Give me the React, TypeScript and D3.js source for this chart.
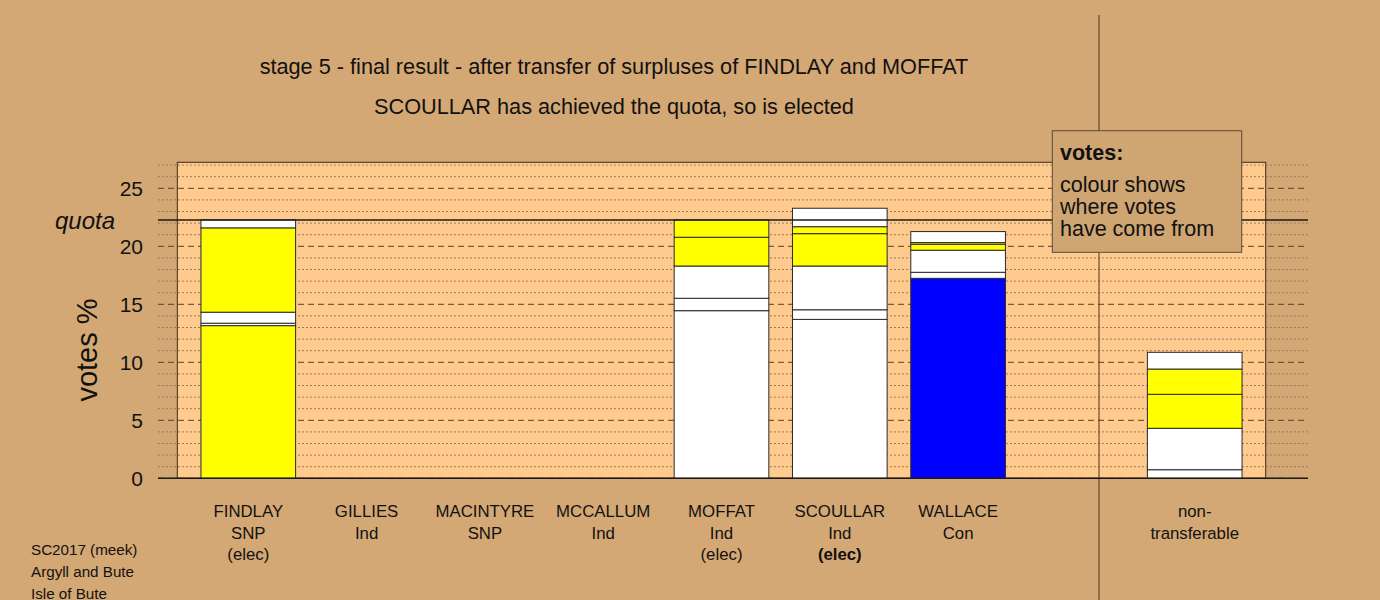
import React from "react";
import * as d3 from "d3";

const titleLines = [
  "stage 5 - final result - after transfer of surpluses of FINDLAY and MOFFAT",
  "SCOULLAR has achieved the quota, so is elected",
];
const candidates = ["FINDLAY", "GILLIES", "MACINTYRE", "MCCALLUM", "MOFFAT", "SCOULLAR", "WALLACE"];
const parties = ["SNP", "Ind", "SNP", "Ind", "Ind", "Ind", "Con"];
const statuses = ["(elec)", "", "", "", "(elec)", "(elec)", ""];
const boldStatus = [false, false, false, false, false, true, false];

const Y = "#ffff00";
const W = "#ffffff";
const B = "#0000ff";

const findlayValues = [13.16, 0.21, 0.95, 7.27, 0.69];
const findlayColors = [Y, W, W, Y, W];
const moffatValues = [14.45, 1.07, 2.78, 2.48, 1.49];
const moffatColors = [W, W, W, Y, Y];
const scoullarValues = [13.7, 0.83, 3.77, 2.79, 0.6, 1.59];
const scoullarColors = [W, W, W, Y, Y, W];
const wallaceValues = [17.24, 0.52, 1.9, 0.52, 0.14, 0.95];
const wallaceColors = [B, W, W, Y, Y, W];
const nonTransValues = [0.74, 3.57, 2.93, 2.18, 1.44];
const nonTransColors = [W, W, Y, Y, W];

const quota = 22.27;
const yTicks = [0, 5, 10, 15, 20, 25];
const footer = ["SC2017 (meek)", "Argyll and Bute", "Isle of Bute"];
const legendTitle = "votes:";
const legendLines = ["colour shows", "where votes", "have come from"];

const bars = [
  { slot: 0, values: findlayValues, colors: findlayColors },
  { slot: 4, values: moffatValues, colors: moffatColors },
  { slot: 5, values: scoullarValues, colors: scoullarColors },
  { slot: 6, values: wallaceValues, colors: wallaceColors },
  { slot: 8, values: nonTransValues, colors: nonTransColors },
];

const BG = "#d4a874";
const PANEL = "#ffca8e";
const FONT = "'Liberation Sans', Arial, sans-serif";

export default function App() {
  const x = d3.scaleLinear().domain([-0.6, 8.6]).range([177.3, 1265.7]);
  const y = d3.scaleLinear().domain([0, 25]).range([478.3, 188.3]);
  const step = x(1) - x(0);
  const bw = step * 0.8;
  const yTop = 162.3;
  const gridVals = d3.range(0, 28);
  const gx0 = 158;
  const gx1 = 1308;

  return (
    <svg
      width={1380}
      height={600}
      style={{ position: "absolute", left: 0, top: 0, fontFamily: FONT }}
    >
      <rect x={0} y={0} width={1380} height={600} fill={BG} />
      <rect
        x={x(-0.6)}
        y={yTop}
        width={x(8.6) - x(-0.6)}
        height={y(0) - yTop}
        fill={PANEL}
        stroke="#3a2a1a"
        strokeWidth={1}
      />
      {gridVals.map((v) => (
        <line
          key={"g" + v}
          x1={gx0}
          x2={gx1}
          y1={y(v)}
          y2={y(v)}
          stroke={v % 5 === 0 ? "#5a3f25" : "#9a7c5c"}
          strokeWidth={1}
          strokeDasharray={v % 5 === 0 ? "6,4" : "2,2"}
        />
      ))}
      <line x1={1099} x2={1099} y1={15} y2={600} stroke="#4a3520" strokeWidth={1} />
      {bars.map((b) => {
        const stack = d3.cumsum(b.values);
        return (
          <g key={"b" + b.slot}>
            {b.values.map((v, i) => {
              const top = stack[i];
              const bottom = top - v;
              return (
                <rect
                  key={i}
                  x={x(b.slot) - bw / 2}
                  y={y(top)}
                  width={bw}
                  height={y(bottom) - y(top)}
                  fill={b.colors[i]}
                  stroke="#2a2a2a"
                  strokeWidth={1}
                />
              );
            })}
          </g>
        );
      })}
      <line x1={gx0} x2={gx1} y1={y(0)} y2={y(0)} stroke="#1a1a1a" strokeWidth={1.5} />
      <line x1={gx0} x2={gx1} y1={y(quota)} y2={y(quota)} stroke="#1a1a1a" strokeWidth={1.5} />
      {yTicks.map((t) => (
        <text
          key={"t" + t}
          x={143}
          y={y(t)}
          dy="0.36em"
          textAnchor="end"
          fontSize={21}
          fill="#111"
        >
          {t}
        </text>
      ))}
      <text x={115} y={y(quota)} dy="0.36em" textAnchor="end" fontSize={24} fontStyle="italic" fill="#111">
        quota
      </text>
      <text
        transform={`translate(97,350) rotate(-90)`}
        textAnchor="middle"
        fontSize={29}
        fill="#111"
      >
        votes %
      </text>
      {titleLines.map((t, i) => (
        <text key={"ti" + i} x={614} y={74 + i * 40} textAnchor="middle" fontSize={21.7} fill="#111">
          {t}
        </text>
      ))}
      {candidates.map((c, i) => (
        <g key={"c" + i} fontSize={16.8} fill="#111" textAnchor="middle">
          <text x={x(i)} y={517}>{c}</text>
          <text x={x(i)} y={539}>{parties[i]}</text>
          {statuses[i] && (
            <text x={x(i)} y={560} fontWeight={boldStatus[i] ? "bold" : "normal"}>
              {statuses[i]}
            </text>
          )}
        </g>
      ))}
      <g fontSize={16.8} fill="#111" textAnchor="middle">
        <text x={x(8)} y={517}>non-</text>
        <text x={x(8)} y={539}>transferable</text>
      </g>
      <rect x={1052.3} y={130.7} width={189.4} height={121.6} fill="#cfa572" stroke="#5a4a3a" strokeWidth={1} />
      <text x={1060} y={160} fontSize={21.5} fontWeight="bold" fill="#111">
        {legendTitle}
      </text>
      {legendLines.map((l, i) => (
        <text key={"l" + i} x={1060} y={192 + i * 22} fontSize={21.5} fill="#111">
          {l}
        </text>
      ))}
      {footer.map((f, i) => (
        <text key={"f" + i} x={31} y={555 + i * 22} fontSize={15.2} fill="#111">
          {f}
        </text>
      ))}
    </svg>
  );
}
